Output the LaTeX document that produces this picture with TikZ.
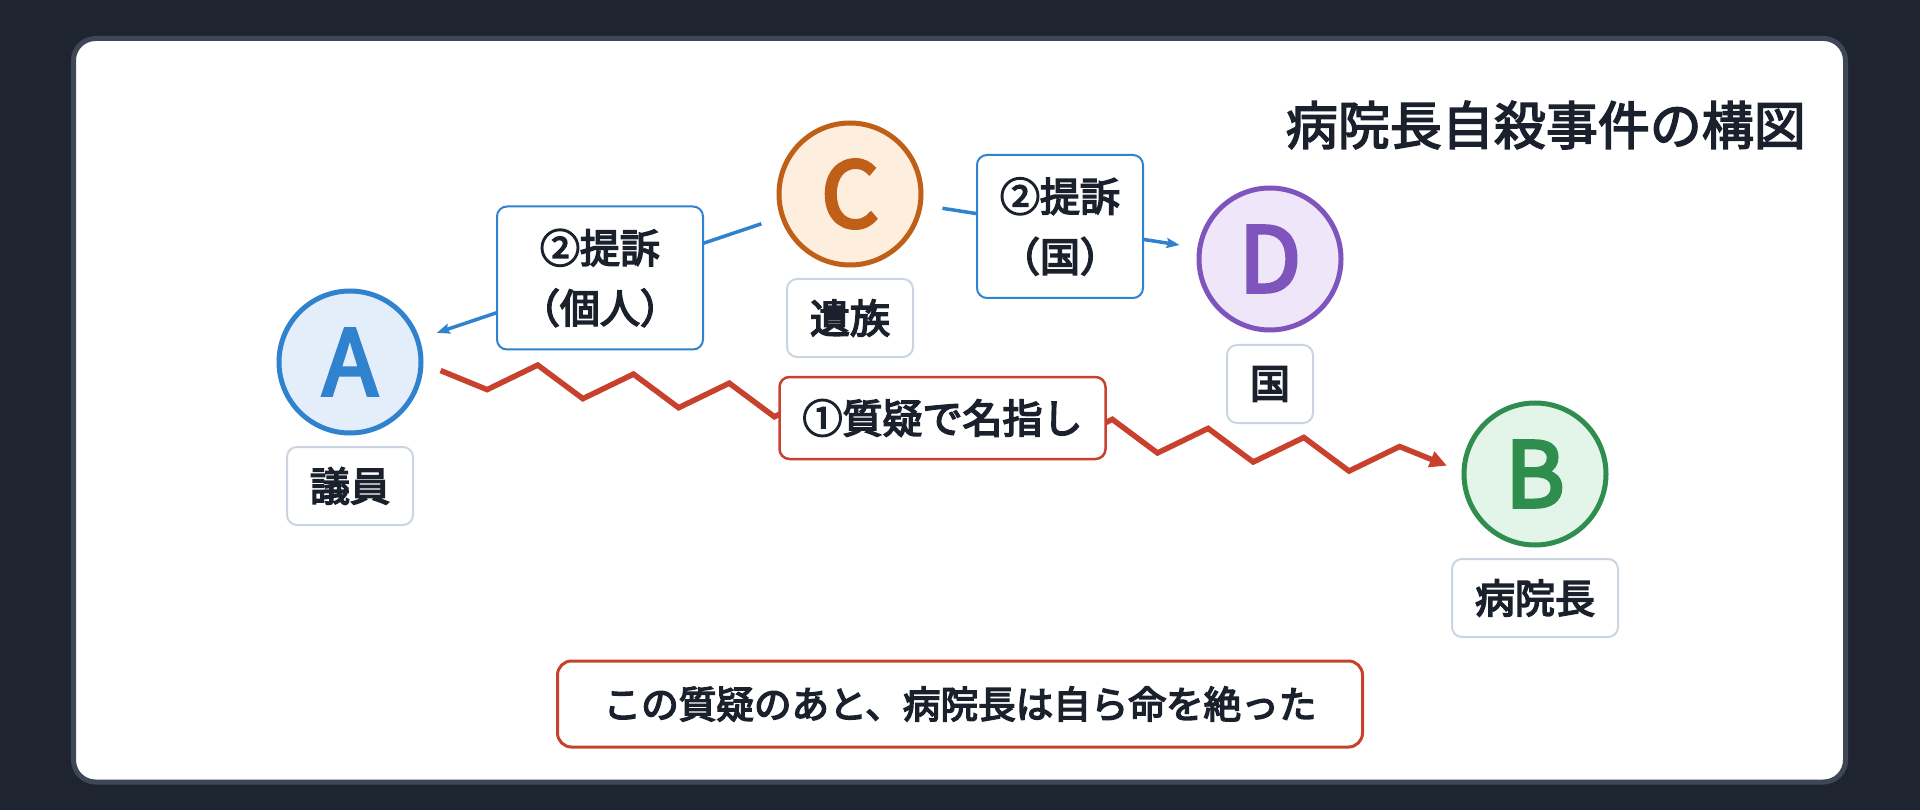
\documentclass[tikz,border=0pt]{standalone}
\usepackage{fontspec}
\setmainfont{Noto Sans CJK JP}
\newfontfamily\medcjk{Noto Sans CJK JP}[FakeBold=4]
\newfontfamily\titlecjk{Noto Sans CJK JP}[FakeBold=3]
\usetikzlibrary{calc,arrows.meta}
\definecolor{bgdark}{HTML}{1F2530}
\definecolor{panelborder}{HTML}{3E4756}
\definecolor{ink}{HTML}{1A202C}
\definecolor{cblue}{HTML}{3182CE}
\definecolor{cbluefill}{HTML}{E4EEFA}
\definecolor{corange}{HTML}{C05F17}
\definecolor{corangefill}{HTML}{FDEEDD}
\definecolor{cpurple}{HTML}{7F55BD}
\definecolor{cpurplefill}{HTML}{EFE6FA}
\definecolor{cgreen}{HTML}{2F8D4E}
\definecolor{cgreenfill}{HTML}{E3F5E8}
\definecolor{cred}{HTML}{C8412C}
\definecolor{lgray}{HTML}{CBD5E0}
\tikzset{
  circ/.style={circle, minimum size=142pt, inner sep=0pt, line width=5pt,
    font=\medcjk\fontsize{90}{90}\selectfont},
  namebox/.style={draw=lgray, line width=2pt, fill=white, rounded corners=10pt,
    inner xsep=23pt, inner ysep=0pt, minimum height=78pt, text=ink,
    font=\medcjk\fontsize{40}{48}\selectfont},
  edgebox/.style={draw=cblue, line width=2pt, fill=white, rounded corners=10pt,
    inner xsep=23pt, inner ysep=0pt, minimum height=143pt, text=ink, align=center,
    font=\medcjk\fontsize{40}{60}\selectfont},
  redbox/.style={draw=cred, line width=2.5pt, fill=white, rounded corners=10pt,
    inner xsep=23pt, inner ysep=0pt, minimum height=82pt, text=ink,
    font=\medcjk\fontsize{40}{48}\selectfont},
  notebox/.style={draw=cred, line width=3pt, fill=white, rounded corners=14pt,
    minimum width=805pt, minimum height=86pt, inner sep=0pt, text=ink,
    font=\medcjk\fontsize{37.6}{44}\selectfont},
  suitline/.style={draw=cblue, line width=3.5pt, -{Stealth[length=13pt,width=10pt,inset=2pt]},
    shorten <=20pt, shorten >=18pt},
  zzline/.style={draw=cred, line width=5.5pt, line join=miter,
    -{Triangle[length=17pt,width=16pt]}},
}
\begin{document}
\begin{tikzpicture}[x=1pt,y=-1pt]
\useasboundingbox (0,0) rectangle (1920,810);
\fill[bgdark] (0,0) rectangle (1920,810);
\draw[fill=white, draw=panelborder, line width=5pt, rounded corners=22pt]
  (73.5,38.5) rectangle (1845.5,782);

\node[anchor=east, inner sep=0pt, text=ink, font=\titlecjk\fontsize{52}{60}\selectfont]
  (title) at (1806,125) {病院長自殺事件の構図};

\node[circ, draw=cblue, fill=cbluefill, text=cblue] (A) at (350,362) {A};
\node[circ, draw=corange, fill=corangefill, text=corange] (C) at (850,194) {C};
\node[circ, draw=cpurple, fill=cpurplefill, text=cpurple] (D) at (1270,259) {D};
\node[circ, draw=cgreen, fill=cgreenfill, text=cgreen] (B) at (1535,474) {B};

\node[namebox] (lA) at (350,486) {議員};
\node[namebox] (lC) at (850,318) {遺族};
\node[namebox] (lD) at (1270,384) {国};
\node[namebox] (lB) at (1535,598) {病院長};

\draw[suitline] (C) -- node[edgebox] (sA) {②提訴\\（個人）} (A);
\draw[suitline] (C) -- node[edgebox] (sD) {②提訴\\（国）} (D);

\draw[zzline] ($(A)!91pt!(B)$)
  \foreach \k in {1,...,20}{ -- ($(A)!{(91+\k*48.1)*1pt}!(B)!{pow(-1,\k)*14.6*1pt}!90:(B)$) }
  -- ($(B)!88.5pt!(A)$);
\node[redbox] (q) at ($(A)!0.5!(B)$) {①質疑で名指し};

\node[notebox] (note) at (960,704) {この質疑のあと、病院長は自ら命を絶った};
\end{tikzpicture}
\end{document}
